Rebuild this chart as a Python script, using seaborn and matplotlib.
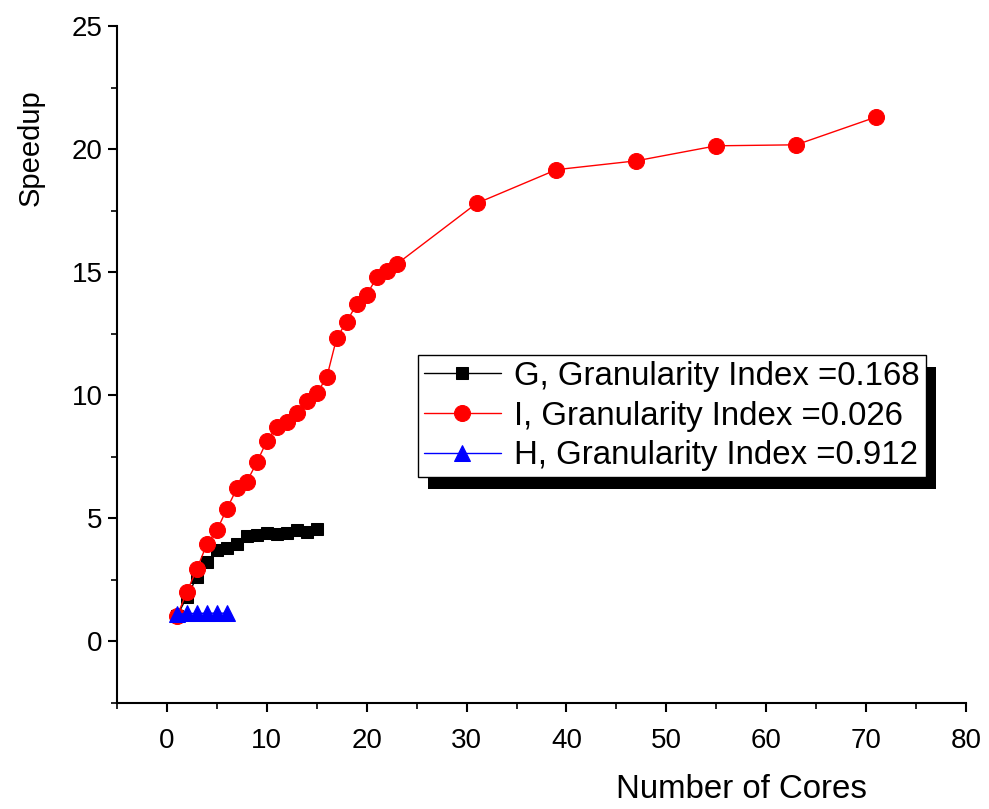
import numpy as np
import pandas as pd
import seaborn as sns
import matplotlib
matplotlib.use("Agg")
import matplotlib.pyplot as plt
from matplotlib.patches import Rectangle
from matplotlib.ticker import MultipleLocator

# Speedup measurements per benchmark
cores_g = [1, 2, 3, 4, 5, 6, 7, 8, 9, 10, 11, 12, 13, 14, 15]
speedup_g = [1.0, 1.8, 2.6, 3.2, 3.7, 3.8, 3.95, 4.25, 4.3, 4.4, 4.35, 4.4, 4.5, 4.45, 4.55]

cores_i = [1, 2, 3, 4, 5, 6, 7, 8, 9, 10, 11, 12, 13, 14, 15, 16, 17, 18, 19, 20,
           21, 22, 23, 31, 39, 47, 55, 63, 71]
speedup_i = [1.0, 2.0, 2.93, 3.94, 4.5, 5.37, 6.2, 6.48, 7.26, 8.13, 8.71, 8.92,
             9.26, 9.77, 10.07, 10.72, 12.33, 12.98, 13.7, 14.07, 14.78, 15.05,
             15.32, 17.79, 19.16, 19.52, 20.13, 20.17, 21.3]

cores_h = [1, 2, 3, 4, 5, 6]
speedup_h = [1.08, 1.12, 1.12, 1.13, 1.13, 1.13]

labels = ["G, Granularity Index =0.168",
          "I, Granularity Index =0.026",
          "H, Granularity Index =0.912"]

x_ticks = [0, 10, 20, 30, 40, 50, 60, 70, 80]
y_ticks = [0, 5, 10, 15, 20, 25]

sns.set_theme(style="white")
plt.rcParams["font.family"] = ["Liberation Sans", "DejaVu Sans"]
plt.rcParams.update({"text.color": "black", "axes.labelcolor": "black",
                     "xtick.color": "black", "ytick.color": "black"})

fig = plt.figure(figsize=(9.89, 8.09), dpi=100)
ax = fig.add_axes([117 / 989, 1 - 702.5 / 809, (966 - 117) / 989, (702.5 - 26) / 809])

df_g = pd.DataFrame({"cores": cores_g, "speedup": speedup_g})
df_i = pd.DataFrame({"cores": cores_i, "speedup": speedup_i})
df_h = pd.DataFrame({"cores": cores_h, "speedup": speedup_h})

sns.lineplot(data=df_g, x="cores", y="speedup", ax=ax, color="black", lw=1,
             marker="s", markersize=9, markeredgecolor="black", label=labels[0])
sns.lineplot(data=df_i, x="cores", y="speedup", ax=ax, color="red", lw=1,
             marker="o", markersize=11.5, markeredgecolor="red", label=labels[1])
sns.lineplot(data=df_h, x="cores", y="speedup", ax=ax, color="blue", lw=1,
             marker="^", markersize=11, markeredgecolor="blue", label=labels[2])

ax.set_xlim(-5, 80)
ax.set_ylim(-2.5, 25)
ax.set_xticks(x_ticks)
ax.set_yticks(y_ticks)
ax.xaxis.set_minor_locator(MultipleLocator(5))
ax.yaxis.set_minor_locator(MultipleLocator(2.5))

for side in ("top", "right"):
    ax.spines[side].set_visible(False)
for side in ("left", "bottom"):
    ax.spines[side].set_color("black")
    ax.spines[side].set_linewidth(1.5)

ax.tick_params(which="major", direction="out", length=6.5, width=1.5, colors="black",
               left=True, bottom=True)
ax.tick_params(which="minor", direction="out", length=4, width=1.2, colors="black",
               left=True, bottom=True)
ax.tick_params(axis="y", labelsize=20, pad=4)
ax.tick_params(axis="x", labelsize=20, pad=12)

ax.set_xlabel("Number of Cores", fontsize=23.8)
ax.set_ylabel("Speedup", fontsize=21)
ax.xaxis.set_label_coords(0.735, -0.129)
ax.xaxis.label.set_va("center")
ax.yaxis.set_label_coords(-0.102, 0.82)
ax.yaxis.label.set_va("center")

leg = ax.legend(loc="upper left", bbox_to_anchor=((418 - 117) / 849, (702.5 - 355) / 676.5),
                borderaxespad=0, fontsize=23.8, frameon=True, fancybox=False,
                edgecolor="black", framealpha=1, handlelength=2.33, handletextpad=0.4,
                labelspacing=0.26, borderpad=0.18)
leg.get_frame().set_linewidth(1)
leg.set_zorder(10)

# drop shadow behind the legend box
fig.canvas.draw()
bb = leg.get_frame().get_window_extent()
shadow = Rectangle((bb.x0 + 10, bb.y0 - 12), bb.width, bb.height,
                   transform=None, facecolor="black", edgecolor="none", zorder=9)
ax.add_artist(shadow)

fig.savefig("out.png", dpi=100)
